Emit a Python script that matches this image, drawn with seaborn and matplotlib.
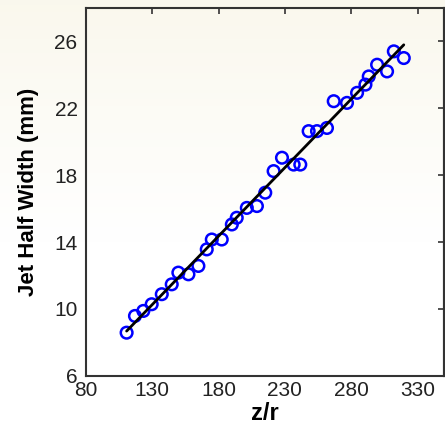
import matplotlib
matplotlib.use("Agg")
import matplotlib.pyplot as plt
import seaborn as sns
import pandas as pd
import numpy as np

z_over_r = [110.7, 117.0, 123.3, 129.6, 137.2, 144.7, 149.7, 157.3, 164.8, 171.1,
            174.9, 182.4, 190.0, 193.7, 201.3, 208.9, 215.2, 221.5, 227.8, 236.6,
            241.6, 247.9, 254.2, 261.7, 266.8, 276.8, 284.4, 290.7, 293.2, 299.5,
            307.0, 312.1, 319.6]
half_width = [8.58, 9.58, 9.88, 10.28, 10.88, 11.47, 12.17, 12.07, 12.57, 13.56,
              14.15, 14.15, 15.05, 15.45, 16.04, 16.15, 16.95, 18.24, 19.04, 18.63,
              18.63, 20.63, 20.63, 20.82, 22.42, 22.32, 22.92, 23.41, 23.90, 24.60,
              24.20, 25.40, 25.00]
x_ticks = [80, 130, 180, 230, 280, 330]
y_ticks = [6, 10, 14, 18, 22, 26]

df = pd.DataFrame({"z/r": z_over_r, "w": half_width})

sns.set_style("white")
plt.rcParams["font.family"] = ["Liberation Sans", "DejaVu Sans"]

fig = plt.figure(figsize=(4.45, 4.37), dpi=100)

# soft cream background fading to white
bg = fig.add_axes([0, 0, 1, 1], zorder=-10)
t = np.linspace(0, 1, 256)
a = np.clip((t - 0.45) / 0.55, 0, 1)[:, None]
top = np.array([0.980, 0.972, 0.930])
img = (1 - a[..., None]) * np.ones(3) + a[..., None] * top
img = np.repeat(img, 2, axis=1)
bg.imshow(img, aspect="auto", origin="lower", extent=[0, 1, 0, 1])
bg.set_axis_off()

ax = fig.add_axes([0.193, 0.140, 0.805, 0.842])
ax.patch.set_alpha(0)

sns.scatterplot(data=df, x="z/r", y="w", ax=ax, marker="o", s=70,
                facecolor="none", edgecolor="#0000ff", linewidth=1.8, zorder=2)
sns.regplot(data=df, x="z/r", y="w", ax=ax, ci=None, scatter=False,
            line_kws={"color": "black", "linewidth": 2.0, "zorder": 3})

ax.set_xlim(80, 350)
ax.set_ylim(6, 28)
ax.set_xticks(x_ticks)
ax.set_yticks(y_ticks)
ax.set_xlabel("z/r", fontsize=17, fontweight="bold", labelpad=1, color="black")
ax.set_ylabel("Jet Half Width (mm)", fontsize=16, fontweight="bold", labelpad=11, color="black")
ax.tick_params(axis="x", direction="in", length=4, width=1.2, labelsize=15, pad=4,
               color="#333333", labelcolor="#222222", top=True)
ax.tick_params(axis="y", direction="out", length=4, width=1.2, labelsize=15, pad=2,
               color="#333333", labelcolor="#222222")
sec = ax.secondary_yaxis("right")
sec.set_yticks(y_ticks)
sec.tick_params(direction="in", length=4, width=1.2, labelright=False, color="#333333")
for s in list(ax.spines.values()) + list(sec.spines.values()):
    s.set_linewidth(1.5)
    s.set_color("#333333")

fig.savefig("out.png", dpi=100)
